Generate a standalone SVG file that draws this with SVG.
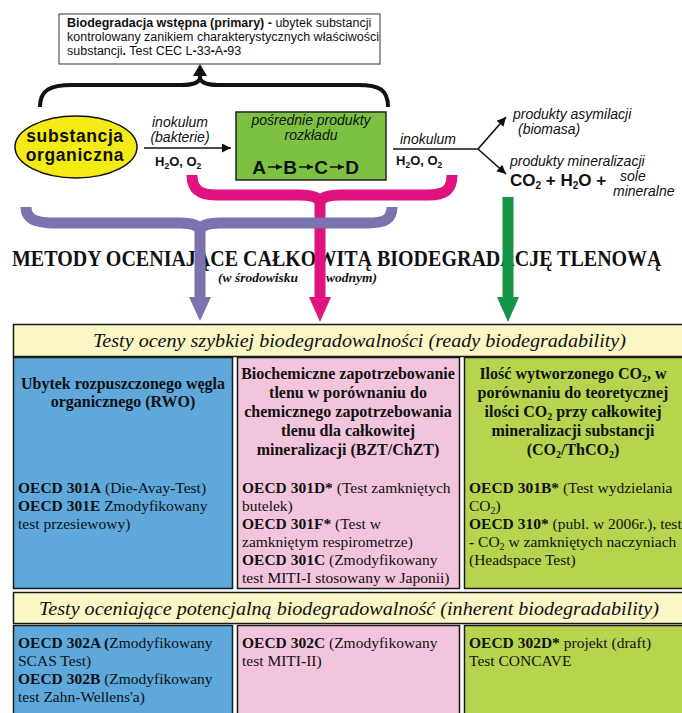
<svg xmlns="http://www.w3.org/2000/svg" width="682" height="713" viewBox="0 0 682 713">
<style>
.sans{font-family:"Liberation Sans",Arial,sans-serif;fill:#111}
.serif{font-family:"Liberation Serif","Times New Roman",serif;fill:#111}
.it{font-style:italic}
.b{font-weight:bold}
.cell{stroke:#1a1a1a;stroke-width:1.5}
.hdr{fill:#faf6c6}
.blue{fill:#5ea8dc}
.pink{fill:#f3c5dc}
.lime{fill:#b6d44e}
.ct{font-family:"Liberation Serif","Times New Roman",serif;font-size:15.5px;fill:#111}
.ch{font-family:"Liberation Serif","Times New Roman",serif;font-size:16px;font-weight:bold;text-anchor:middle;fill:#111}
.lbl{font-family:"Liberation Sans",Arial,sans-serif;font-style:italic;font-size:14px;fill:#111}
.chem{font-family:"Liberation Sans",Arial,sans-serif;font-weight:bold;font-size:13px;fill:#111}
.thin{stroke:#111;stroke-width:1.6;fill:none}
</style>
<defs>
<marker id="ah" viewBox="0 0 10 10" refX="10" refY="5" markerUnits="userSpaceOnUse" markerWidth="13" markerHeight="9" orient="auto"><path d="M0,0 L10,5 L0,10 z" fill="#111"/></marker>
<marker id="ahs" viewBox="0 0 10 10" refX="10" refY="5" markerUnits="userSpaceOnUse" markerWidth="7" markerHeight="6" orient="auto"><path d="M0,0 L10,5 L0,10 z" fill="#111"/></marker>
</defs>

<g id="node-primary">
<rect x="59" y="14" width="321" height="50" fill="#fff" stroke="#555" stroke-width="1.2"/>
<text class="sans" font-size="12.5" x="67" y="27"><tspan font-weight="bold">Biodegradacja wstępna (primary) -</tspan> ubytek substancji</text>
<text class="sans" font-size="12.5" x="67" y="41">kontrolowany zanikiem charakterystycznych właściwości</text>
<text class="sans" font-size="12.5" x="67" y="55">substancji<tspan font-weight="bold">.</tspan> Test CEC L<tspan font-weight="bold">-</tspan>33<tspan font-weight="bold">-</tspan>A<tspan font-weight="bold">-</tspan>93</text>
</g>

<g id="node-substance">
<ellipse cx="76" cy="147" rx="61" ry="31" fill="#f4ea14" stroke="#111" stroke-width="1.5"/>
<text class="sans b" font-size="17.5" x="75" y="142" text-anchor="middle" letter-spacing="0.6">substancja</text>
<text class="sans b" font-size="17.5" x="75" y="161" text-anchor="middle" letter-spacing="0.6">organiczna</text>
</g>

<g id="label-inokulum-1">
<text class="lbl" x="180" y="127" text-anchor="middle">inokulum</text>
<text class="lbl" x="180" y="142" text-anchor="middle">(bakterie)</text>
<text class="chem" x="155" y="166">H<tspan font-size="8.5" dy="3">2</tspan><tspan dy="-3">O, O</tspan><tspan font-size="8.5" dy="3">2</tspan></text>
</g>

<g id="node-intermediate">
<rect x="236" y="112" width="150" height="68" fill="#7cc142" stroke="#222" stroke-width="1.5"/>
<text class="lbl" font-size="13.5" x="311" y="125" text-anchor="middle">pośrednie produkty</text>
<text class="lbl" font-size="13.5" x="311" y="140" text-anchor="middle">rozkładu</text>
<text class="sans b" font-size="19" x="259" y="174" text-anchor="middle">A</text>
<text class="sans b" font-size="19" x="290" y="174" text-anchor="middle">B</text>
<text class="sans b" font-size="19" x="321" y="174" text-anchor="middle">C</text>
<text class="sans b" font-size="19" x="352" y="174" text-anchor="middle">D</text>
<line x1="268" y1="167" x2="282" y2="167" stroke="#111" stroke-width="1.5" marker-end="url(#ahs)"/>
<line x1="299" y1="167" x2="313" y2="167" stroke="#111" stroke-width="1.5" marker-end="url(#ahs)"/>
<line x1="330" y1="167" x2="344" y2="167" stroke="#111" stroke-width="1.5" marker-end="url(#ahs)"/>
</g>

<g id="label-inokulum-2">
<text class="lbl" x="428" y="144" text-anchor="middle">inokulum</text>
<text class="chem" x="396" y="165">H<tspan font-size="8.5" dy="3">2</tspan><tspan dy="-3">O, O</tspan><tspan font-size="8.5" dy="3">2</tspan></text>
</g>

<g id="node-assimilation">
<text class="lbl" x="513" y="119">produkty asymilacji</text>
<text class="lbl" x="518" y="134">(biomasa)</text>
</g>

<g id="node-mineralization">
<text class="lbl" x="510" y="166">produkty mineralizacji</text>
<text class="sans b" font-size="17" x="510" y="186">CO<tspan font-size="10" dy="3">2</tspan><tspan dy="-3"> + H</tspan><tspan font-size="10" dy="3">2</tspan><tspan dy="-3">O +</tspan></text>
<text class="lbl" x="620" y="181">sole</text>
<text class="lbl" x="613" y="196">mineralne</text>
</g>

<g id="title">
<text class="serif b" font-size="20" x="0" y="0" transform="translate(12,266) scale(1,1.15)">METODY OCENIAJĄCE CAŁKOWITĄ BIODEGRADACJĘ TLENOWĄ</text>
<text class="serif b it" font-size="13.5" x="218" y="282">(w środowisku</text>
<text class="serif b it" font-size="13.5" x="326" y="282">wodnym)</text>
</g>

<g id="connectors">
<line x1="144" y1="148" x2="231" y2="148" class="thin" marker-end="url(#ah)"/>
<polyline points="393,149 478,149" class="thin"/>
<line x1="478" y1="149" x2="506" y2="117" class="thin" marker-end="url(#ah)"/>
<line x1="478" y1="149" x2="506" y2="174" class="thin" marker-end="url(#ah)"/>
<path d="M40,107 C40,90 50,85 72,85 L182,85 C193,85 198,83 200,79 C202,83 207,85 218,85 L358,85 C380,85 388,90 388,107" fill="none" stroke="#111" stroke-width="4"/>
<line x1="200" y1="82" x2="200" y2="74" stroke="#111" stroke-width="4"/>
<polygon points="193,76 207,76 200,64" fill="#111"/>
<path d="M192,175 C192,190 200,195 216,195 L300,195 C312,195 318,197 320,202 C322,197 328,195 340,195 L428,195 C445,195 452,190 452,175" fill="none" stroke="#e0127f" stroke-width="11"/>
<line x1="320" y1="198" x2="320" y2="300" stroke="#e0127f" stroke-width="11"/>
<polygon points="309,297 331,297 320,322" fill="#e0127f"/>
<path d="M26,207 C26,219 35,223 55,223 L180,223 C193,223 199,226 200,230 C201,226 207,223 220,223 L368,223 C385,223 392,219 392,207" fill="none" stroke="#7b73ad" stroke-width="11"/>
<line x1="200" y1="226" x2="200" y2="300" stroke="#7b73ad" stroke-width="11"/>
<polygon points="189,297 211,297 200,321" fill="#7b73ad"/>
<line x1="508" y1="197" x2="508" y2="300" stroke="#139446" stroke-width="11"/>
<polygon points="497,297 519,297 508,322" fill="#139446"/>
</g>

<g id="header-ready">
<rect x="13.5" y="324.5" width="680" height="32" class="cell hdr"/>
<text class="serif it" font-size="19" x="93" y="347" textLength="533" lengthAdjust="spacingAndGlyphs">Testy oceny szybkiej biodegradowalności (ready biodegradability)</text>
</g>

<g id="cell-rwo">
<rect x="13.5" y="357.5" width="219" height="231" class="cell blue"/>
<text class="ch" x="123" y="389">Ubytek rozpuszczonego węgla</text>
<text class="ch" x="123" y="407">organicznego (RWO)</text>
<text class="ct" x="18" y="493"><tspan font-weight="bold">OECD 301A</tspan> (Die<tspan font-weight="bold">-</tspan>Avay<tspan font-weight="bold">-</tspan>Test)</text>
<text class="ct" x="18" y="511"><tspan font-weight="bold">OECD 301E</tspan> Zmodyfikowany</text>
<text class="ct" x="18" y="529">test przesiewowy)</text>
</g>

<g id="cell-bzt">
<rect x="237.5" y="357.5" width="222" height="231" class="cell pink"/>
<text class="ch" x="348" y="379">Biochemiczne zapotrzebowanie</text>
<text class="ch" x="348" y="398">tlenu w porównaniu do</text>
<text class="ch" x="348" y="417">chemicznego zapotrzebowania</text>
<text class="ch" x="348" y="436">tlenu dla całkowitej</text>
<text class="ch" x="348" y="455">mineralizacji (BZT/ChZT)</text>
<text class="ct" x="242" y="493"><tspan font-weight="bold">OECD 301D*</tspan> (Test zamkniętych</text>
<text class="ct" x="242" y="511">butelek)</text>
<text class="ct" x="242" y="529"><tspan font-weight="bold">OECD 301F*</tspan> (Test w</text>
<text class="ct" x="242" y="547">zamkniętym respirometrze)</text>
<text class="ct" x="242" y="565"><tspan font-weight="bold">OECD 301C</tspan> (Zmodyfikowany</text>
<text class="ct" x="242" y="583">test MITI<tspan font-weight="bold">-</tspan>I stosowany w Japonii)</text>
</g>

<g id="cell-co2">
<rect x="464.5" y="357.5" width="230" height="231" class="cell lime"/>
<text class="ch" x="573" y="379">Ilość wytworzonego CO<tspan font-size="10" dy="3">2</tspan><tspan dy="-3">, w</tspan></text>
<text class="ch" x="573" y="398">porównaniu do teoretycznej</text>
<text class="ch" x="573" y="417">ilości CO<tspan font-size="10" dy="3">2</tspan><tspan dy="-3"> przy całkowitej</tspan></text>
<text class="ch" x="573" y="436">mineralizacji substancji</text>
<text class="ch" x="573" y="455">(CO<tspan font-size="10" dy="3">2</tspan><tspan dy="-3">/ThCO</tspan><tspan font-size="10" dy="3">2</tspan><tspan dy="-3">)</tspan></text>
<text class="ct" x="469" y="493"><tspan font-weight="bold">OECD 301B*</tspan> (Test wydzielania</text>
<text class="ct" x="469" y="511">CO<tspan font-size="10" dy="3">2</tspan><tspan dy="-3">)</tspan></text>
<text class="ct" x="469" y="529"><tspan font-weight="bold">OECD 310*</tspan> (publ. w 2006r.), test</text>
<text class="ct" x="469" y="547"><tspan font-weight="bold">-</tspan> CO<tspan font-size="10" dy="3">2</tspan><tspan dy="-3"> w zamkniętych naczyniach</tspan></text>
<text class="ct" x="469" y="565">(Headspace Test)</text>
</g>

<g id="header-inherent">
<rect x="13.5" y="592.5" width="680" height="31" class="cell hdr"/>
<text class="serif it" font-size="19" x="39" y="615" textLength="620" lengthAdjust="spacingAndGlyphs">Testy oceniające potencjalną biodegradowalność (inherent biodegradability)</text>
</g>

<g id="cell-302ab">
<rect x="13.5" y="625.5" width="219" height="100" class="cell blue"/>
<text class="ct" x="18" y="648"><tspan font-weight="bold">OECD 302A (</tspan>Zmodyfikowany</text>
<text class="ct" x="18" y="666">SCAS Test)</text>
<text class="ct" x="18" y="684"><tspan font-weight="bold">OECD 302B</tspan> (Zmodyfikowany</text>
<text class="ct" x="18" y="702">test Zahn<tspan font-weight="bold">-</tspan>Wellens'a)</text>
</g>

<g id="cell-302c">
<rect x="237.5" y="625.5" width="222" height="100" class="cell pink"/>
<text class="ct" x="242" y="648"><tspan font-weight="bold">OECD 302C</tspan> (Zmodyfikowany</text>
<text class="ct" x="242" y="666">test MITI<tspan font-weight="bold">-</tspan>II)</text>
</g>

<g id="cell-302d">
<rect x="464.5" y="625.5" width="230" height="100" class="cell lime"/>
<text class="ct" x="469" y="648"><tspan font-weight="bold">OECD 302D*</tspan> projekt (draft)</text>
<text class="ct" x="469" y="666">Test CONCAVE</text>
</g>
</svg>
